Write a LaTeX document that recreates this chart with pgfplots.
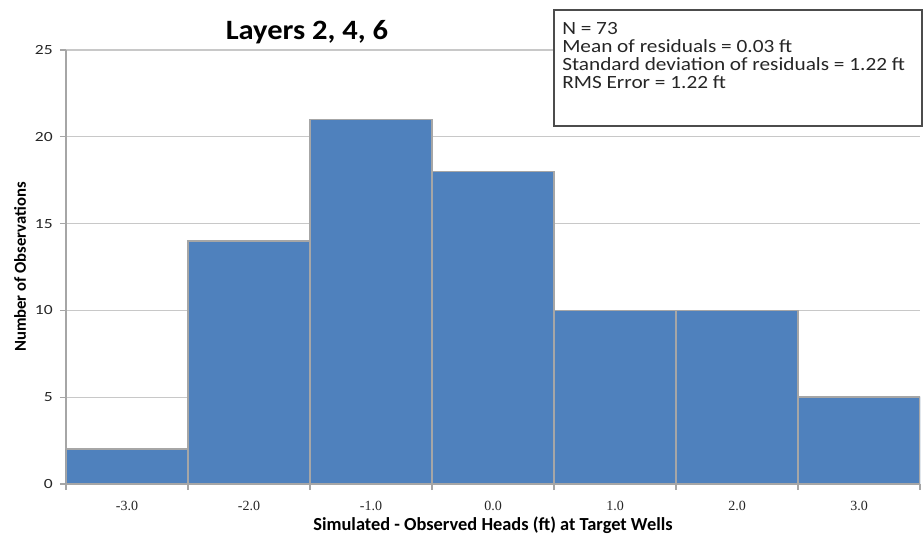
\documentclass[border=0pt]{standalone}
\usepackage{fontspec}
\setmainfont{Carlito}
\newfontfamily\seriffont{Liberation Serif}
\usepackage{graphicx}
\usepackage{pgfplots}
\pgfplotsset{compat=1.18}
\definecolor{barblue}{HTML}{4F81BD}
\definecolor{baredge}{HTML}{A6A6A6}
\definecolor{gridgray}{HTML}{C8C8C8}
\begin{document}
\begin{tikzpicture}
\path[use as bounding box] (-49.5pt,-39pt) rectangle (642.75pt,363pt);
\begin{axis}[
  scale only axis, width=640.5pt, height=325.5pt,
  xmin=-3.5, xmax=3.5, ymin=0, ymax=25,
  axis lines*=left,
  axis line style={draw=baredge, line width=0.9pt},
  ytick={0,5,...,25},
  ymajorgrids,
  grid style={draw=gridgray, line width=0.9pt},
  xtick={-3.5,-2.5,...,3.5}, xticklabels={},
  extra x ticks={-3,-2,...,3},
  extra x tick labels={-3.0,-2.0,-1.0,0.0,1.0,2.0,3.0},
  extra x tick style={major tick length=0pt, grid=none},
  tick align=outside,
  major tick length=4.5pt,
  tick style={draw=baredge, line width=0.8pt},
  /pgf/number format/assume math mode=true,
  yticklabel={\scalebox{1.25}[1]{\pgfmathprintnumber{\tick}}},
  yticklabel style={font=\fontsize{10.5}{12}\selectfont, text=black!85, xshift=-2pt},
  xticklabel style={font=\seriffont\fontsize{10.5}{12}\selectfont, text=black!85, yshift=-9.5pt},
  every axis y label/.style={at={(axis description cs:-0.0539,0.5)}, rotate=90, anchor=center, font=\bfseries\fontsize{12.5}{14}\selectfont},
  every axis x label/.style={at={(axis description cs:0.5,-0.095)}, anchor=center, font=\bfseries\fontsize{13.8}{15}\selectfont},
  ylabel={Number of Observations},
  xlabel={Simulated - Observed Heads (ft) at Target Wells},
]
\addplot[ybar interval, fill=barblue, draw=baredge, line width=1.2pt]
  coordinates {(-3.5,2) (-2.5,14) (-1.5,21) (-0.5,18) (0.5,10) (1.5,10) (2.5,5) (3.5,5)};
\end{axis}
\node[font=\bfseries\fontsize{21}{24}\selectfont] at (180.75pt,339pt) {\scalebox{1.09}[1]{Layers 2, 4, 6}};
\draw[draw=black!70, line width=1pt, fill=white] (366pt,268.5pt) rectangle (642pt,355.5pt);
\begin{scope}[every node/.style={anchor=base west, inner sep=0pt, font=\fontsize{14}{16}\selectfont, text=black!85}]
\node at (372pt,336.75pt) {\scalebox{1.14}[1]{N = 73}};
\node at (372pt,323.25pt) {\scalebox{1.14}[1]{Mean of residuals = 0.03 ft}};
\node at (372pt,309.75pt) {\scalebox{1.14}[1]{Standard deviation of residuals = 1.22 ft}};
\node at (372pt,296.25pt) {\scalebox{1.14}[1]{RMS Error = 1.22 ft}};
\end{scope}
\end{tikzpicture}
\end{document}
